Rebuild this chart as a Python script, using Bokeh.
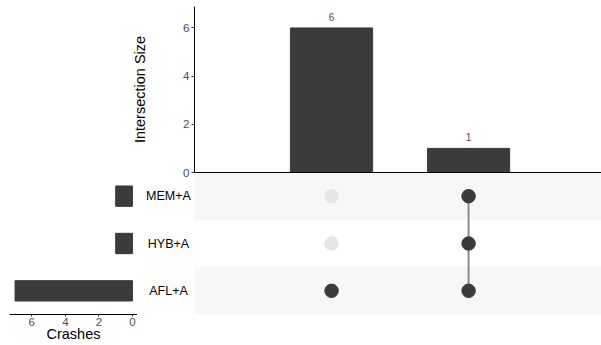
from bokeh.plotting import figure
from bokeh.models import Range1d, FactorRange, FixedTicker
from bokeh.layouts import row, column
from bokeh.embed import file_html
from bokeh.resources import INLINE
from bokeh.core.properties import value

# ---- data ----
sets = ["AFL+A", "HYB+A", "MEM+A"]          # bottom to top
set_sizes = [7, 1, 1]
intersections = ["AFL+A", "AFL+A&HYB+A&MEM+A"]
inter_sizes = [6, 1]
inter_members = [["AFL+A"], ["AFL+A", "HYB+A", "MEM+A"]]
size_ticks = [0, 2, 4, 6]
crash_ticks = [0, 2, 4, 6]

DARK = "#3b3b3b"
SHADE = "#f7f7f7"
INACTIVE = "#e6e6e6"
LINEC = "#8c8c8c"
TICKC = "#4d4d4d"
FONT = "Liberation Sans"

inter_x = list(range(1, len(inter_sizes) + 1))
xr = Range1d(0, 2.97)
yr_sets = FactorRange(*sets)


def clean(p):
    p.xgrid.visible = False
    p.ygrid.visible = False
    p.outline_line_color = None


# ---- top: intersection sizes ----
top = figure(frame_width=407, frame_height=166, x_range=xr, y_range=Range1d(0, 6.89),
             output_backend="svg", toolbar_location=None, x_axis_location=None,
             min_border_left=194, min_border_right=0, min_border_top=6, min_border_bottom=8)
clean(top)
top.vbar(x=inter_x, top=inter_sizes, width=0.6, color=DARK)
top.text(x=inter_x, y=inter_sizes, text=[str(v) for v in inter_sizes],
         text_align="center", text_baseline="alphabetic", y_offset=-11,
         text_font_size="10px", text_color=TICKC, text_font=value(FONT))
ya = top.yaxis[0]
ya.ticker = FixedTicker(ticks=size_ticks)
ya.minor_tick_line_color = None
ya.major_tick_out = 3
ya.major_tick_in = 0
ya.major_tick_line_color = "#333333"
ya.axis_line_color = "black"
ya.major_label_text_font = FONT
ya.major_label_text_font_size = "11.5px"
ya.major_label_text_color = TICKC
ya.major_label_standoff = 2
ya.axis_label = "Intersection Size"
ya.axis_label_text_font = FONT
ya.axis_label_text_font_size = "14.5px"
ya.axis_label_text_font_style = "normal"
ya.axis_label_text_color = "black"
ya.axis_label_standoff = 32

# ---- left: set sizes ----
left = figure(frame_width=128, frame_height=142, x_range=Range1d(7.33, -0.3), y_range=yr_sets,
              output_backend="svg", toolbar_location=None, y_axis_location=None,
              min_border_left=9, min_border_right=0, min_border_top=0, min_border_bottom=0)
clean(left)
left.background_fill_alpha = 0
left.border_fill_alpha = 0
left.hbar(y=sets, right=set_sizes, left=0, height=0.43, color=DARK)
la = left.xaxis[0]
la.ticker = FixedTicker(ticks=crash_ticks)
la.minor_tick_line_color = None
la.major_tick_out = 2
la.major_tick_in = 0
la.major_tick_line_color = "#333333"
la.axis_line_color = "black"
la.major_label_text_font = FONT
la.major_label_text_font_size = "11.5px"
la.major_label_text_color = TICKC
la.major_label_standoff = 1
la.axis_label = "Crashes"
la.axis_label_text_font = FONT
la.axis_label_text_font_size = "14.5px"
la.axis_label_text_font_style = "normal"
la.axis_label_text_color = "black"
la.axis_label_standoff = -3

# ---- set labels ----
lab = figure(frame_width=57, frame_height=142, x_range=Range1d(0, 1), y_range=yr_sets,
             output_backend="svg", toolbar_location=None,
             x_axis_location=None, y_axis_location=None, min_border=0)
clean(lab)
lab.background_fill_alpha = 0
lab.border_fill_alpha = 0
lab.text(x=[0.5] * len(sets), y=sets, text=sets, text_align="center", text_baseline="middle",
         x_offset=2.5, text_font_size="12.5px", text_color="black", text_font=value(FONT))

# ---- matrix ----
mat = figure(frame_width=407, frame_height=142, x_range=xr, y_range=yr_sets,
             output_backend="svg", toolbar_location=None,
             x_axis_location="above", y_axis_location=None, min_border=0)
clean(mat)
ma = mat.xaxis[0]
ma.ticker = FixedTicker(ticks=[])
ma.major_tick_out = 0
ma.major_tick_in = 0
ma.minor_tick_out = 0
ma.minor_tick_in = 0
ma.major_label_standoff = 0
ma.axis_line_color = "black"

shaded = sets[::2]
mat.hbar(y=shaded, left=[xr.start] * len(shaded), right=[xr.end] * len(shaded),
         height=1, color=SHADE)

seg_x, seg_lo, seg_hi = [], [], []
for xi, members in zip(inter_x, inter_members):
    if len(members) > 1:
        idx = sorted(sets.index(m) for m in members)
        seg_x.append(xi)
        seg_lo.append(sets[idx[0]])
        seg_hi.append(sets[idx[-1]])
if seg_x:
    mat.segment(x0=seg_x, y0=seg_lo, x1=seg_x, y1=seg_hi, line_color=LINEC, line_width=2)

dx, dy, dc = [], [], []
for xi, members in zip(inter_x, inter_members):
    for s in sets:
        dx.append(xi)
        dy.append(s)
        dc.append(DARK if s in members else INACTIVE)
mat.scatter(x=dx, y=dy, size=13.5, fill_color=dc, line_color=dc)

bottom = row(left, lab, mat, margin=(-8, 0, 0, 0))
root = column(top, bottom)

open("out.html", "w").write(file_html(root, INLINE))
